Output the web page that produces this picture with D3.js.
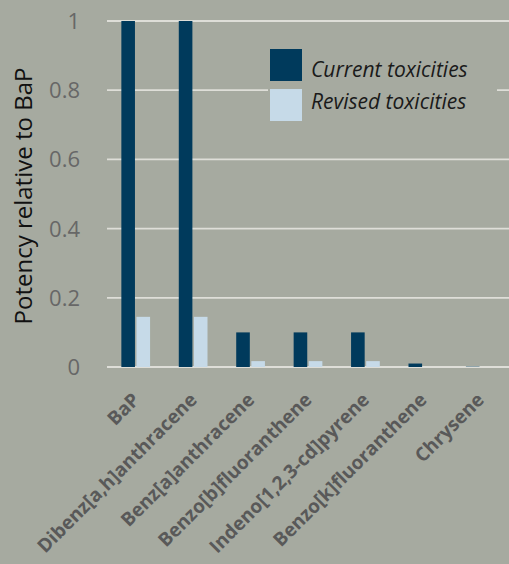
<!DOCTYPE html>
<html>
<head>
<meta charset="utf-8">
<script src="https://cdn.jsdelivr.net/npm/d3@7"></script>
<style>
  body { margin: 0; background: #a6aaa0; }
  svg { display: block; }
</style>
</head>
<body>
<script>
const width = 509;
const height = 564;

const categories = [
  "BaP",
  "Dibenz[a,h]anthracene",
  "Benz[a]anthracene",
  "Benzo[b]fluoranthene",
  "Indeno[1,2,3-cd]pyrene",
  "Benzo[k]fluoranthene",
  "Chrysene"
];
const current = [1, 1, 0.1, 0.1, 0.1, 0.01, 0.001];
const revised = [0.145, 0.145, 0.017, 0.017, 0.017, 0, 0];
const seriesNames = ["Current toxicities", "Revised toxicities"];
const colors = ["#003a5c", "#c6dae8"];
const yTicks = [0, 0.2, 0.4, 0.6, 0.8, 1];

const margin = { top: 21, right: 0, bottom: 197, left: 107 };
const font = "Open Sans, sans-serif";

const svg = d3
  .select("body")
  .append("svg")
  .attr("width", width)
  .attr("height", height);

svg.append("rect").attr("width", width).attr("height", height).attr("fill", "#a6aaa0");

const x = d3
  .scaleBand()
  .domain(categories)
  .range([margin.left, width - margin.right])
  .paddingInner(0.5)
  .paddingOuter(0.25);

const xSub = d3.scaleBand().domain([0, 1]).range([0, x.bandwidth()]).paddingInner(0.1);

const y = d3.scaleLinear().domain([0, 1]).range([height - margin.bottom, margin.top]);

// gridlines
svg
  .selectAll("line.grid")
  .data(yTicks)
  .enter()
  .append("line")
  .attr("x1", margin.left)
  .attr("x2", width - margin.right)
  .attr("y1", (d) => y(d))
  .attr("y2", (d) => y(d))
  .attr("stroke", "#deded8")
  .attr("stroke-width", 1.8);

// tick labels
svg
  .selectAll("text.tick")
  .data(yTicks)
  .enter()
  .append("text")
  .attr("x", 80)
  .attr("y", (d) => y(d))
  .attr("dy", "0.36em")
  .attr("text-anchor", "end")
  .attr("font-family", font)
  .attr("font-size", 22)
  .attr("fill", "#676767")
  .text((d) => d3.format("~g")(d));

// bars
const series = [current, revised];
series.forEach((vals, s) => {
  svg
    .selectAll("rect.s" + s)
    .data(categories)
    .enter()
    .append("rect")
    .attr("x", (c) => x(c) + xSub(s))
    .attr("width", xSub.bandwidth())
    .attr("y", (c, i) => y(vals[i]))
    .attr("height", (c, i) => y(0) - y(vals[i]))
    .attr("fill", colors[s]);
});

// x labels
svg
  .selectAll("text.xlab")
  .data(categories)
  .enter()
  .append("text")
  .attr("transform", (c) => `translate(${x(c) + x.bandwidth() / 2 + 5},${y(0) + 34}) rotate(-45)`)
  .attr("text-anchor", "end")
  .attr("font-family", font)
  .attr("font-weight", "bold")
  .attr("font-size", 19)
  .attr("fill", "#595959")
  .text((c) => c);

// y title
svg
  .append("text")
  .attr("transform", `translate(32,${y(0.5) + 2}) rotate(-90)`)
  .attr("text-anchor", "middle")
  .attr("font-family", font)
  .attr("font-size", 24)
  .attr("fill", "#111")
  .text("Potency relative to BaP");

// legend
const legend = svg.append("g").attr("transform", "translate(270,49)");
legend.append("rect").attr("x", -2).attr("y", -2).attr("width", 229).attr("height", 75).attr("fill", "#a6aaa0");
seriesNames.forEach((n, i) => {
  legend
    .append("rect")
    .attr("x", 0)
    .attr("y", i * 40)
    .attr("width", 32)
    .attr("height", 32)
    .attr("fill", colors[i]);
  legend
    .append("text")
    .attr("x", 41)
    .attr("y", i * 32 + 28)
    .attr("font-family", font)
    .attr("font-style", "italic")
    .attr("font-size", 21)
    .attr("fill", "#1a1a1a")
    .text(n);
});
</script>
</body>
</html>
